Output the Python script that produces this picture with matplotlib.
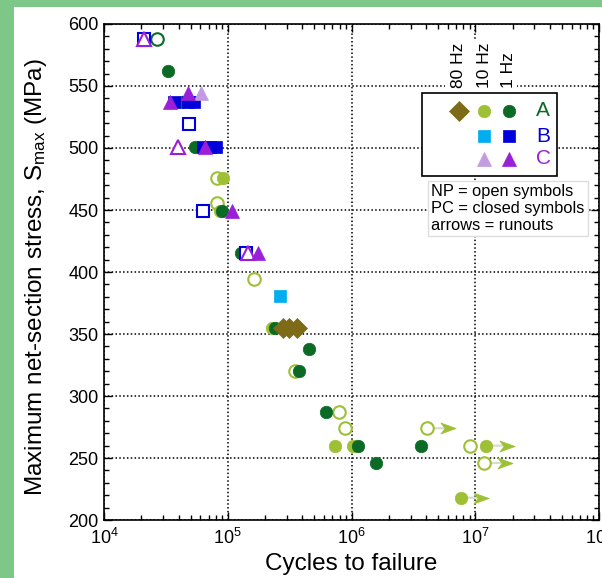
import matplotlib
matplotlib.use("Agg")
import matplotlib.pyplot as plt
import matplotlib.transforms as mtransforms
from matplotlib.patches import Rectangle
from matplotlib.path import Path
from matplotlib.ticker import MultipleLocator, LogLocator

plt.rcParams['font.family'] = ['Liberation Sans', 'DejaVu Sans']
plt.rcParams['mathtext.fontset'] = 'custom'
plt.rcParams['mathtext.rm'] = 'Liberation Sans'
plt.rcParams['mathtext.it'] = 'Liberation Sans:italic'
plt.rcParams['mathtext.bf'] = 'Liberation Sans:bold'

# ---- data: cycles to failure (N) and maximum net-section stress (MPa) ----
# Material A, 80 Hz, PC (closed)
A80_pc_N = [2.8e5, 3.15e5, 3.6e5]
A80_pc_S = [355, 355, 355]

# Material A, 10 Hz, NP (open)
A10_np_N = [8.2e4, 8.2e4, 1.62e5, 3.47e5, 7.85e5, 8.9e5, 4.1e6, 9.1e6, 1.17e7]
A10_np_S = [476, 456, 394, 320, 287, 274, 274, 260, 246]
A10_np_runout = [False, False, False, False, False, False, True, False, True]

# Material A, 10 Hz, PC (closed)
A10_pc_N = [9.2e4, 8.6e4, 2.27e5, 7.3e5, 1.02e6, 1.23e7, 7.6e6]
A10_pc_S = [476, 449, 355, 260, 260, 260, 218]
A10_pc_runout = [False, False, False, False, False, True, True]

# Material A, 1 Hz, NP (open)
A1_np_N = [2.7e4]
A1_np_S = [588]

# Material A, 1 Hz, PC (closed)
A1_pc_N = [3.3e4, 4.3e4, 5.4e4, 8.9e4, 1.27e5, 2.4e5, 4.55e5, 3.75e5,
           6.2e5, 1.12e6, 1.58e6, 3.67e6]
A1_pc_S = [562, 537, 501, 449, 415, 355, 338, 320, 287, 260, 246, 260]

# Material B
B10_pc_N = [2.62e5]
B10_pc_S = [381]
B1_np_N = [2.1e4, 4.9e4, 6.3e4, 1.4e5]
B1_np_S = [588, 519, 449, 415]
B1_pc_N = [3.65e4, 4.75e4, 5.3e4, 6.3e4, 7.2e4, 8.1e4]
B1_pc_S = [537, 537, 537, 501, 501, 501]

# Material C
C10_pc_N = [6.1e4]
C10_pc_S = [544]
C1_np_N = [2.1e4, 3.95e4, 1.45e5]
C1_np_S = [588, 501, 415]
C1_pc_N = [3.4e4, 4.75e4, 6.6e4, 1.08e5, 1.75e5]
C1_pc_S = [537, 544, 501, 449, 415]

# ---- colours ----
c_olive = '#7d6b17'
c_ygreen = '#9dc035'
c_dgreen = '#0b6b25'
c_cyan = '#00aeef'
c_blue = '#0000dd'
c_lpurple = '#c39be0'
c_purple = '#9b1fd6'
c_runline = '#d6ddc9'
c_frame = '#7dc888'

fig = plt.figure(figsize=(6.02, 5.78), dpi=100)
fig.patch.set_facecolor(c_frame)
fig.add_artist(Rectangle((14 / 602, 0), 1, 1 - 7 / 578, transform=fig.transFigure,
                         facecolor='white', edgecolor='none', zorder=-10))

ax = fig.add_axes([0.1728, 0.1003, 0.8223, 0.8582])
ax.set_xscale('log')
ax.set_xlim(1e4, 1e8)
ax.set_ylim(200, 600)

ax.yaxis.set_major_locator(MultipleLocator(50))
ax.yaxis.set_minor_locator(MultipleLocator(10))
ax.xaxis.set_major_locator(LogLocator(base=10, numticks=10))
ax.xaxis.set_minor_locator(LogLocator(base=10, subs=range(2, 10), numticks=20))

ax.grid(True, which='major', color='black', linestyle=(0, (1, 1.5)), linewidth=1.1)
ax.set_axisbelow(True)
ax.tick_params(which='both', direction='in', top=True, right=True, labelsize=13)
ax.tick_params(which='major', length=6, width=1, pad=4)
ax.tick_params(axis='x', which='major', pad=6)
ax.tick_params(which='minor', length=3.5, width=1)
for sp in ax.spines.values():
    sp.set_linewidth(1.2)

ax.set_xlabel('Cycles to failure', fontsize=17.5)
ax.set_ylabel('Maximum net-section stress, S$_{\\mathrm{max}}$ (MPa)', fontsize=17.5)
ax.xaxis.set_label_coords(0.5, -0.066)
ax.yaxis.set_label_coords(-0.112, 0.49)

ms_c, ms_s, ms_t, ms_d = 9, 8.5, 10, 10
mew = 1.5


def openpts(N, S, marker, color, ms):
    ax.plot(N, S, linestyle='none', marker=marker, ms=ms, mfc='white',
            mec=color, mew=mew, zorder=3)


def closedpts(N, S, marker, color, ms):
    ax.plot(N, S, linestyle='none', marker=marker, ms=ms, mfc=color,
            mec=color, mew=0.5, zorder=3)


# runout arrows: pale shaft plus notched arrowhead to the right of the point
head = Path([(0.5, 0.0), (-0.5, 0.36), (-0.22, 0.0), (-0.5, -0.36), (0.5, 0.0)],
            [Path.MOVETO, Path.LINETO, Path.LINETO, Path.LINETO, Path.CLOSEPOLY])
head_shift = mtransforms.ScaledTranslation(15 / 72, 0, fig.dpi_scale_trans)


def runouts(N, S, flags, color):
    for n, s, f in zip(N, S, flags):
        if not f:
            continue
        ax.annotate('', xy=(n, s), xytext=(12, 0), textcoords='offset points',
                    arrowprops=dict(arrowstyle='-', color=c_runline, lw=1.6,
                                    shrinkA=0, shrinkB=0), zorder=2)
        ax.plot([n], [s], linestyle='none', marker=head, ms=11, mfc=color,
                mec=color, mew=0.5, transform=ax.transData + head_shift, zorder=3)


runouts(A10_np_N, A10_np_S, A10_np_runout, c_ygreen)
runouts(A10_pc_N, A10_pc_S, A10_pc_runout, c_ygreen)

openpts(A10_np_N, A10_np_S, 'o', c_ygreen, ms_c)
closedpts(A10_pc_N, A10_pc_S, 'o', c_ygreen, ms_c)
openpts(A1_np_N, A1_np_S, 'o', c_dgreen, ms_c)
closedpts(A1_pc_N, A1_pc_S, 'o', c_dgreen, ms_c)
closedpts(A80_pc_N, A80_pc_S, 'D', c_olive, ms_d)

openpts(B1_np_N, B1_np_S, 's', c_blue, ms_s)
closedpts(B10_pc_N, B10_pc_S, 's', c_cyan, ms_s)
closedpts(B1_pc_N, B1_pc_S, 's', c_blue, ms_s)

openpts(C1_np_N, C1_np_S, '^', c_purple, ms_t)
closedpts(C10_pc_N, C10_pc_S, '^', c_lpurple, ms_t)
closedpts(C1_pc_N, C1_pc_S, '^', c_purple, ms_t)

# ---- symbol key ----
T = ax.transAxes
ax.add_patch(Rectangle((0.689, 0.863), 0.145, 0.105, transform=T, facecolor='white',
                       edgecolor='none', zorder=4))
col_x = [0.717, 0.768, 0.818]
for x, lab in zip(col_x, ['80 Hz', '10 Hz', '1 Hz']):
    ax.text(x, 0.871, lab, transform=T, rotation=90, ha='center', va='bottom',
            fontsize=12.5, zorder=5)

ax.add_patch(Rectangle((0.642, 0.694), 0.273, 0.167, transform=T, facecolor='white',
                       edgecolor='black', linewidth=1.2, zorder=4))
row_y = [0.825, 0.774, 0.728]
key = [
    [('D', c_olive, ms_d), ('o', c_ygreen, ms_c), ('o', c_dgreen, ms_c)],
    [None, ('s', c_cyan, ms_s), ('s', c_blue, ms_s)],
    [None, ('^', c_lpurple, ms_t), ('^', c_purple, ms_t)],
]
for y, row in zip(row_y, key):
    for x, m in zip(col_x, row):
        if m is None:
            continue
        ax.plot([x], [y], transform=T, linestyle='none', marker=m[0], ms=m[2],
                mfc=m[1], mec=m[1], mew=0.5, zorder=5, clip_on=False)
for y, lab, col in zip(row_y, ['A', 'B', 'C'], [c_dgreen, c_blue, c_purple]):
    ax.text(0.887, y, lab, transform=T, ha='center', va='center', fontsize=15,
            color=col, zorder=5)

ax.text(0.661, 0.677, 'NP = open symbols\nPC = closed symbols\narrows = runouts',
        transform=T, ha='left', va='top', fontsize=11.8, linespacing=1.15, zorder=5,
        bbox=dict(boxstyle='square,pad=0.2', facecolor='white', edgecolor='#dddddd',
                  linewidth=1))

fig.savefig('out.png', dpi=100, facecolor=fig.get_facecolor())
